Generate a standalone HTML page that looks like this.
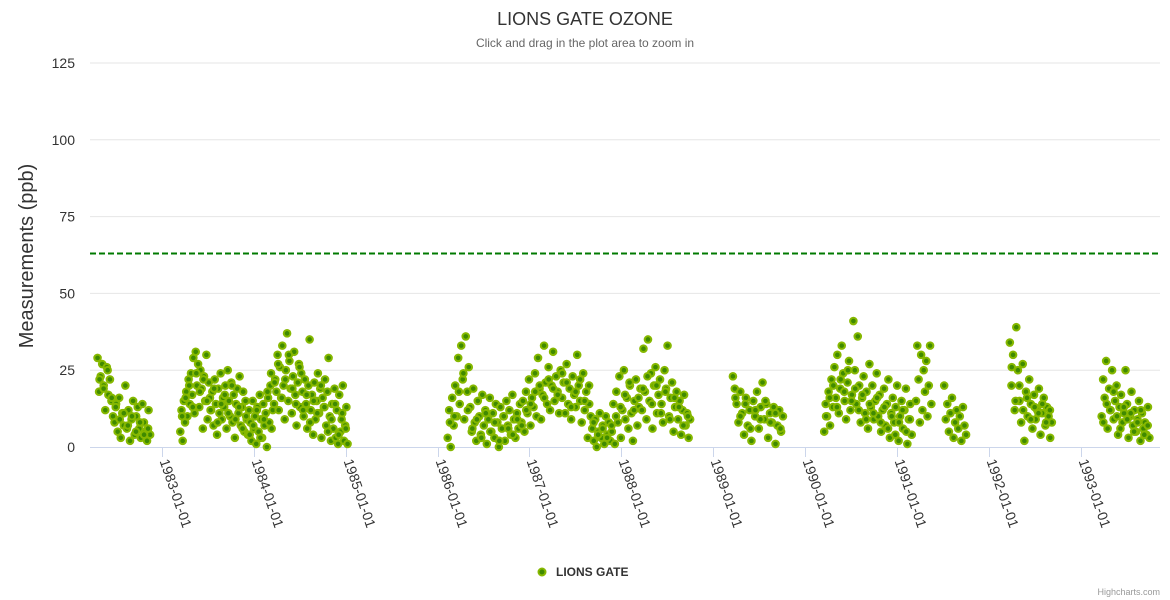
<!DOCTYPE html>
<html><head><meta charset="utf-8"><style>
body{margin:0;background:#fff;font-family:"Liberation Sans","DejaVu Sans",sans-serif}
svg{display:block}
</style></head><body>
<svg id="chart" width="1170" height="600" xmlns="http://www.w3.org/2000/svg" font-family="Liberation Sans, DejaVu Sans, sans-serif">
<text x="585" y="25" text-anchor="middle" font-size="18" fill="#333">LIONS GATE OZONE</text>
<text x="585" y="47" text-anchor="middle" font-size="12" fill="#666">Click and drag in the plot area to zoom in</text>
<text transform="translate(33,256) rotate(-90)" text-anchor="middle" font-size="20" fill="#333">Measurements (ppb)</text>
<g id="grid"></g><g id="xaxis"></g><g id="plot"></g>
<g>
<circle cx="542" cy="572" r="3.5" fill="#3f8a00" stroke="#86b800" stroke-width="2"/>
<text x="556" y="576" font-size="12" font-weight="bold" fill="#333">LIONS GATE</text>
</g>
<text x="1160" y="595" text-anchor="end" font-size="9" fill="#999">Highcharts.com</text>
</svg>
<script>
const yTicks=[0,25,50,75,100,125];
const xTickLabels=["1983-01-01","1984-01-01","1985-01-01","1986-01-01","1987-01-01","1988-01-01","1989-01-01","1990-01-01","1991-01-01","1992-01-01","1993-01-01"];
const thresholdValue=63;
const segStart=["1982-04-20","1983-03-15","1986-02-10","1989-03-20","1990-03-18","1991-03-18","1991-07-08","1992-03-25","1993-03-25"];
const segEnd=["1982-11-15","1985-01-08","1988-10-01","1989-10-05","1991-03-01","1991-05-18","1991-10-03","1992-09-08","1993-10-01"];
const seg1=[29,18,23,27,20,12,26,17,22,15,10,8,14,5,16,3,11,7,20,6,12,2,9,15,4,10,13,6,3,14,8,5,2,12,4];
const seg2=[5,12,2,15,8,18,10,22,14,24,17,29,11,31,20,27,13,25,19,6,23,15,30,9,21,16,
12,18,7,22,14,4,19,11,24,9,16,13,20,6,25,15,10,21,8,17,3,14,19,11,23,7,13,18,5,15,9,
4,12,8,2,15,6,10,1,13,5,17,9,3,14,7,11,0,16,8,20,6,12,
14,22,18,30,12,26,16,33,20,9,25,37,15,28,19,11,23,31,17,7,21,27,13,24,
18,10,22,14,6,20,35,12,17,4,21,9,15,24,11,19,3,16,13,22,7,18,29,
10,2,14,6,19,3,12,1,17,5,9,20,2,7,13,1];
const seg3=[3,12,0,16,7,20,10,29,14,33,22,9,36,18,26,
13,5,19,8,2,15,10,4,17,7,12,1,9,16,5,11,3,14,8,0,13,6,10,2,15,7,12,4,17,9,3,11,6,14,
8,15,5,18,11,22,7,16,13,24,10,29,19,9,17,33,21,14,26,12,20,31,15,23,18,11,25,
16,21,11,27,14,19,9,23,17,13,30,20,15,8,24,12,18,3,14,10,
6,2,9,0,5,11,3,7,1,10,4,8,2,
5,14,1,18,8,23,3,12,25,9,16,6,20,11,2,15,22,7,13,19,
12,32,18,9,35,15,24,6,20,26,11,17,22,14,8,25,19,33,10,16,21,5,13,18,9,15,4,12,17,7,11,3,9];
const seg4=[23,19,14,8,18,11,4,16,7,12,2,15,10,18,6,13,21,9,14,3,11,8,13,1,7,12,5,10];
const seg5=[5,14,10,18,7,22,13,26,16,30,11,19,33,24,15,9,21,28,12,17,41,25,14,36,20,8,16,23,11,18,6,27,13,20,9,15,24,10,17,5,12,19,7,14,22,3,11,16,8,13,20,2,10,15,6,12,19,1,9,14,4];
const seg6=[15,33,22,8,30,12,25,18,28,10,20,33,14];
const seg7=[20,9,14,5,11,16,3,8,12,6,10,2,13,7,4];
const seg8=[34,20,30,12,39,25,15,8,27,2,18,10,22,14,6,17,9,12,19,4,11,16,7,13,10,3,8];
const seg9=[10,22,16,28,6,19,12,25,9,15,20,4,13,17,8,11,25,14,3,10,18,7,12,5,9,15,2,11,6,8,4,13,3];
const segValues=[seg1,seg2,seg3,seg4,seg5,seg6,seg7,seg8,seg9];
const seg1b=[22,19,25,16,13,9,11,7,10,5,8,4,6];
const seg2b=[10,16,20,13,24,18,22,15,12,19,8,14,17,11,20,9,13,6,10,4,7,12,3,9,18,24,21,27,16,22,30,19,14,26,12,17,8,15,11,20,13,5,9,14,4,11,6];
const seg3b=[8,10,18,24,12,6,9,3,11,5,8,2,10,6,4,9,7,12,14,18,20,16,22,19,17,24,21,13,18,22,15,20,8,4,6,3,7,10,13,17,21,12,16,19,23,14,20,11,18,9,16,13,7,10];
const seg4b=[16,10,14,6,12,9,15,8,11,6];
const seg5b=[10,16,20,13,22,18,25,15,19,12,17,9,14,11,16,8,13,6,10,4,8,12,5,9];
const seg8b=[26,15,20,12,16,9,13,11,14,8,12];
const seg9b=[8,14,12,18,10,6,13,9,11,5,8,12,4,7];
const segValuesB=[seg1b,seg2b,seg3b,seg4b,seg5b,[],[],seg8b,seg9b];

const NS="http://www.w3.org/2000/svg";
const L=90,R=1160,T=63,B=447,yMax=125;
const xMinT=Date.UTC(1982,2,21),xMaxT=Date.UTC(1993,10,12);
const xs=t=>L+(t-xMinT)/(xMaxT-xMinT)*(R-L);
const ys=v=>B-v/yMax*(B-T);
const P=s=>Date.parse(s+"T00:00:00Z");
function mk(tag,attrs,parent){const e=document.createElementNS(NS,tag);for(const k in attrs)e.setAttribute(k,attrs[k]);parent.appendChild(e);return e;}
const grid=document.getElementById('grid'),xa=document.getElementById('xaxis'),plot=document.getElementById('plot');
yTicks.forEach(v=>{
 if(v>0){const g=mk('line',{x1:L,x2:R,y1:ys(v),y2:ys(v),stroke:'#e6e6e6'},grid);
 
 }
 const t=mk('text',{x:75,y:ys(v)+5,'text-anchor':'end','font-size':14,fill:'#333'},grid);
 t.textContent=v;
 
 
});
const ax=mk('line',{x1:L,x2:R,y1:B+0.5,y2:B+0.5,stroke:'#ccd6eb'},xa);


xTickLabels.forEach(s=>{
 const x=Math.round(xs(P(s)))+0.5;
 const tk=mk('line',{x1:x,x2:x,y1:B,y2:B+10,stroke:'#ccd6eb'},xa);
 
 
 const t=mk('text',{transform:`translate(${x-3},${B+14}) rotate(71)`,'font-size':14,fill:'#333'},xa);
 t.textContent=s;
 
 
});
function drawSeg(vals,i,off){
 const a=P(segStart[i]),b=P(segEnd[i]);
 vals.forEach((v,j)=>{
  const f=vals.length>1?(j+off)/(vals.length-1+2*off):0;
  const t=a+(b-a)*f;
  const c=mk('circle',{cx:xs(t),cy:ys(v),r:3.3,fill:'#3f8a00',stroke:'#86b800','stroke-width':2},plot);
  
  
 });
}
segValues.forEach((vals,i)=>drawSeg(vals,i,0));
segValuesB.forEach((vals,i)=>drawSeg(vals,i,0.5));
const th=mk('line',{x1:L,x2:R,y1:ys(thresholdValue),y2:ys(thresholdValue),stroke:'#007a00','stroke-width':2,'stroke-dasharray':'6,3'},plot);


</script>
</body></html>
